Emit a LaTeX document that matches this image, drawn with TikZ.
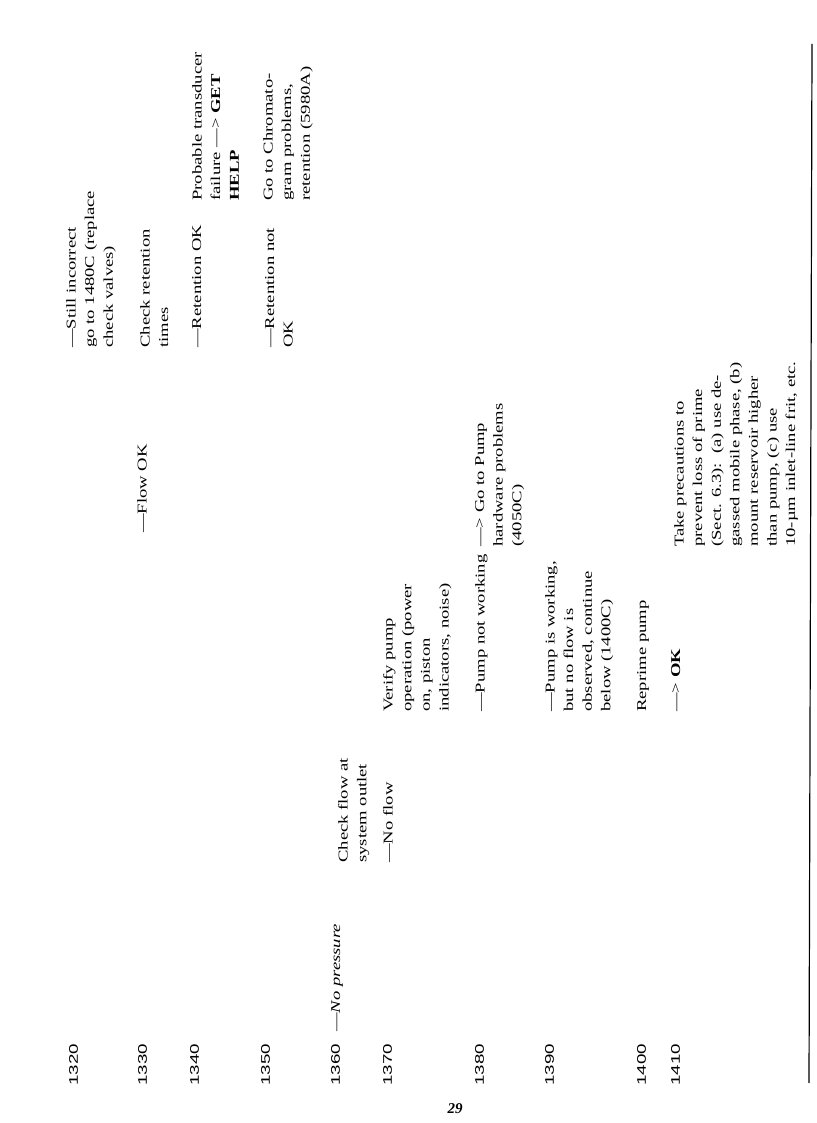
\documentclass[tikz,border=0pt]{standalone}
\usepackage{fontspec}
\setmainfont{Liberation Serif}
\newfontfamily\numfont{Liberation Sans}
\begin{document}
\begin{tikzpicture}[x=1pt,y=1pt,
  t/.style={rotate=90,xscale=1.38,anchor=north west,inner sep=0pt,align=left,
    font=\fontsize{13.5}{18.6}\selectfont},
  num/.style={rotate=90,xscale=1.5,anchor=north west,inner sep=0pt,
    font=\numfont\fontsize{12.5}{14}\selectfont}]
\useasboundingbox (0,0) rectangle (816,1123);
% line numbers
\foreach \n/\x in {1320/76,1330/145,1340/197,1350/268,1360/338,1370/390,1380/482,1390/552,1400/644,1410/678}
  \node[num] (n\n) at (\x-7,37) {\n};
% column 1
\node[t] (nopress) at (338-7,91) {---\textit{No pressure}};
% column 2
\node[t] (check) at (345-7,260) {Check flow at\\system outlet};
\node[t] (noflow) at (390-7,260) {---No flow};
% column 3
\node[t] (verify) at (390-7,411) {Verify pump\\operation (power\\on, piston\\indicators, noise)};
\node[t] (notwork) at (482-7,411) {---Pump not working};
\node[t] (working) at (552-7,411) {---Pump is working,\\but no flow is\\observed, continue\\below (1400C)};
\node[t] (reprime) at (644-7,411) {Reprime pump};
\node[t] (ok) at (678-7,411) {---{>} \textbf{OK}};
% column 4
\node[t] (flowok) at (144-7,590) {---Flow OK};
\node[t] (gopump) at (482-7,576) {---{>} Go to Pump\\hardware problems\\(4050C)};
\node[t] (prec) at (681-7,576) {Take precautions to\\prevent loss of prime\\(Sect. 6.3):\ \ (a) use de-\\gassed mobile phase, (b)\\mount reservoir higher\\than pump, (c) use\\10-\textmu m inlet-line frit, etc.};
% column 5
\node[t] (still) at (73-7,775) {---Still incorrect\\go to 1480C (replace\\check valves)};
\node[t] (checkret) at (147-7,775) {Check retention\\times};
\node[t] (retok) at (199-7,775) {---Retention OK};
\node[t] (retnot) at (272-7,775) {---Retention not\\OK};
% column 6
\node[t] (prob) at (199-7,922) {Probable transducer\\failure ---{>} \textbf{GET}\\\textbf{HELP}};
\node[t] (chrom) at (270-7,922) {Go to Chromato-\\gram problems,\\retention (5980A)};
% page number
\node[font=\fontsize{15}{15}\selectfont\itshape\bfseries,inner sep=0pt] (page) at (455,14) {29};
% rule
\coordinate (rt) at (812,1079);
\coordinate (rb) at (809,40);
\draw[line width=1.2pt] (rt) -- (rb);
\end{tikzpicture}
\end{document}
